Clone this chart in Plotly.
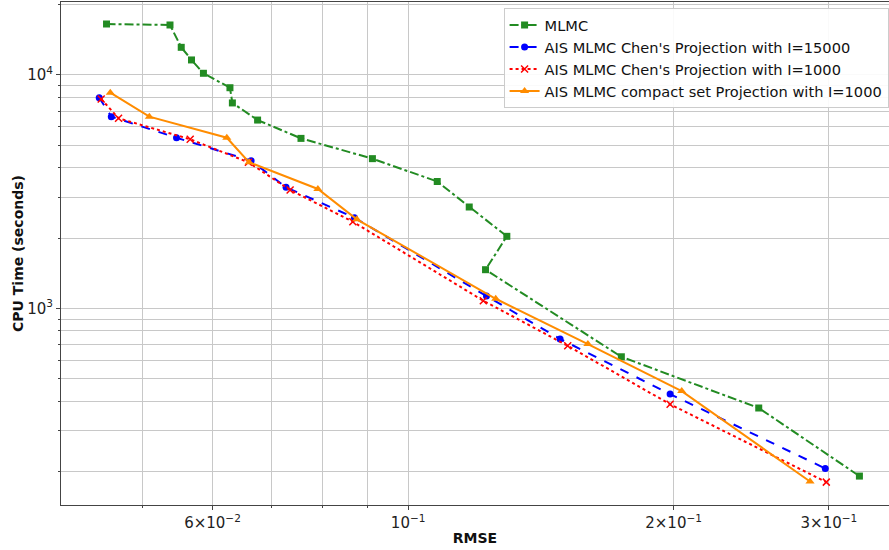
import plotly.graph_objects as go
import numpy as np

# ---- data ----
mlmc_rmse = [0.0455, 0.0537, 0.0553, 0.0568, 0.0586, 0.0628, 0.0632, 0.0675, 0.0756,
             0.0911, 0.1079, 0.1173, 0.1294, 0.1224, 0.1745, 0.2498, 0.3249]
mlmc_time = [16540, 16380, 13140, 11600, 10170, 8820, 7590, 6410, 5350,
             4380, 3495, 2718, 2035, 1464, 620, 374, 191]

chen15000_rmse = [0.04464, 0.04607, 0.05462, 0.06637, 0.07271, 0.08693, 0.1227, 0.1487, 0.1982, 0.2972]
chen15000_time = [7990, 6630, 5385, 4292, 3301, 2445, 1129, 739, 429, 206]

chen1000_rmse = [0.04487, 0.04695, 0.05661, 0.0659, 0.07348, 0.08656, 0.1217, 0.1517, 0.1982, 0.2980]
chen1000_time = [7890, 6523, 5302, 4225, 3215, 2351, 1078, 691, 388, 180]

compact_rmse = [0.04595, 0.05088, 0.06229, 0.06603, 0.07901, 0.08746, 0.1257, 0.1599, 0.2043, 0.2856]
compact_time = [8397, 6627, 5385, 4225, 3247, 2407, 1099, 703, 442, 181]

series_names = ["MLMC",
                "AIS MLMC Chen's Projection with I=15000",
                "AIS MLMC Chen's Projection with I=1000",
                "AIS MLMC compact set Projection with I=1000"]

x_tickvals = [0.06, 0.1, 0.2, 0.3]
x_ticktext = ["6\u00d710<sup>\u22122</sup>", "10<sup>\u22121</sup>",
              "2\u00d710<sup>\u22121</sup>", "3\u00d710<sup>\u22121</sup>"]
y_tickvals = [1000, 10000]
y_ticktext = ["10<sup>3</sup>", "10<sup>4</sup>"]

fig = go.Figure()
fig.add_trace(go.Scatter(x=mlmc_rmse, y=mlmc_time, name=series_names[0], mode="lines+markers",
                         line=dict(color="#228B22", width=2, dash="dashdot"),
                         marker=dict(symbol="square", size=7, color="#228B22")))
fig.add_trace(go.Scatter(x=chen15000_rmse, y=chen15000_time, name=series_names[1], mode="lines+markers",
                         line=dict(color="#0000FF", width=2, dash="dash"),
                         marker=dict(symbol="circle", size=7, color="#0000FF")))
fig.add_trace(go.Scatter(x=chen1000_rmse, y=chen1000_time, name=series_names[2], mode="lines+markers",
                         line=dict(color="#FF0000", width=2, dash="dot"),
                         marker=dict(symbol="x-thin", size=7, color="#FF0000",
                                     line=dict(color="#FF0000", width=1.5))))
fig.add_trace(go.Scatter(x=compact_rmse, y=compact_time, name=series_names[3], mode="lines+markers",
                         line=dict(color="#FF8C00", width=2),
                         marker=dict(symbol="triangle-up", size=8, color="#FF8C00")))

font_family = "DejaVu Sans"
axis_common = dict(
    showline=True, linecolor="#444444", linewidth=1, mirror=True,
    showgrid=True, gridcolor="#c8c8c8", gridwidth=1,
    ticks="outside", ticklen=4, tickcolor="#444444",
    zeroline=False, automargin=False,
    tickfont=dict(family=font_family, size=15, color="#222222"),
)

fig.update_xaxes(type="log", range=[np.log10(0.0404), np.log10(0.351)],
                 tickmode="array", tickvals=x_tickvals, ticktext=x_ticktext,
                 minor=dict(dtick="D1", showgrid=True, gridcolor="#c8c8c8", gridwidth=1,
                            ticks="outside", ticklen=2, tickcolor="#444444"),
                 title=dict(text="<b>RMSE</b>", font=dict(family=font_family, size=14, color="#111111"),
                            standoff=2),
                 **axis_common)
fig.update_yaxes(type="log", range=[np.log10(143.6), np.log10(20550)],
                 tickmode="array", tickvals=y_tickvals, ticktext=y_ticktext,
                 minor=dict(dtick="D1", showgrid=True, gridcolor="#c8c8c8", gridwidth=1,
                            ticks="outside", ticklen=2, tickcolor="#444444"),
                 title=dict(text="<b>CPU Time (seconds)</b>", font=dict(family=font_family, size=14, color="#111111"),
                            standoff=0),
                 **axis_common)

fig.update_layout(
    width=889, height=550,
    margin=dict(l=61, r=0, t=2, b=45),
    plot_bgcolor="white", paper_bgcolor="white",
    font=dict(family=font_family, size=14, color="#111111"),
    legend=dict(x=0.9995, y=0.988, xanchor="right", yanchor="top",
                bgcolor="rgba(255,255,255,0.9)", bordercolor="#cccccc", borderwidth=1,
                font=dict(family=font_family, size=14.6, color="#111111"),
                itemwidth=30, tracegroupgap=0),
    showlegend=True,
)

fig.write_html("out.html", config={"displayModeBar": False},
               post_script="document.body.style.margin='0';")
